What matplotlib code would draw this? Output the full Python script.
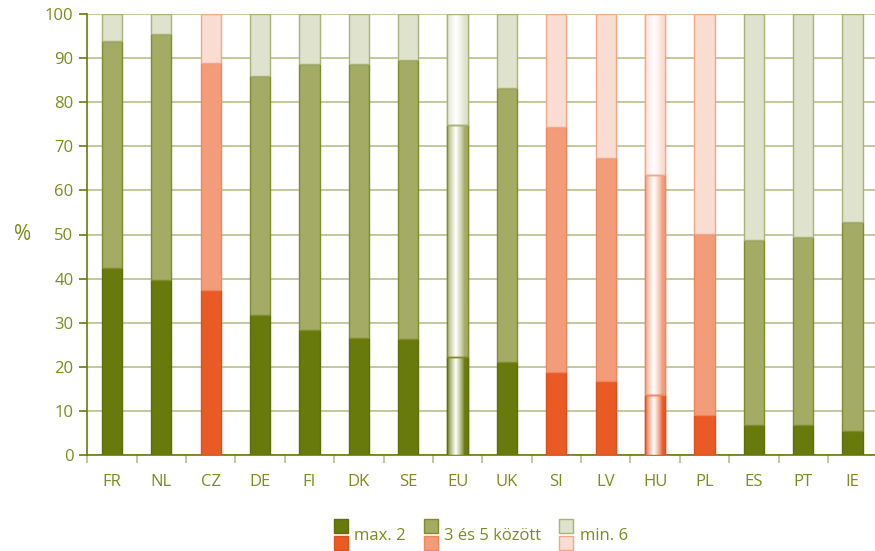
import numpy as np
import matplotlib
matplotlib.use("Agg")
import matplotlib.pyplot as plt
from matplotlib.patches import Rectangle
from matplotlib.legend_handler import HandlerBase
from matplotlib.colors import to_rgb

countries = ["FR", "NL", "CZ", "DE", "FI", "DK", "SE", "EU", "UK", "SI", "LV", "HU", "PL", "ES", "PT", "IE"]
max2 = [42.4, 39.7, 37.4, 31.7, 28.3, 26.5, 26.3, 22.2, 21.1, 18.8, 16.8, 13.6, 9.1, 6.8, 6.8, 5.4]
between3_5 = [51.5, 55.8, 51.5, 54.2, 60.4, 62.2, 63.3, 52.6, 62.1, 55.6, 50.5, 49.9, 41.0, 42.0, 42.6, 47.4]
min6 = [100 - a - b for a, b in zip(max2, between3_5)]
highlight_orange = ["CZ", "SI", "LV", "HU", "PL"]
gradient_bars = ["EU", "HU"]
legend_labels = ["max. 2", "3 és 5 között", "min. 6"]

olive = ["#687a0b", "#a3ab64", "#dfe2cc"]
olive_edge = ["#5e6e08", "#7f8c2a", "#a9b27a"]
orange = ["#ea5a24", "#f29c7a", "#f9dcd2"]
orange_edge = ["#e04e1a", "#ee8660", "#f3a78a"]
text_color = "#7d8a1c"
axis_color = "#6b7a0b"

plt.rcParams['font.family'] = ['Open Sans', 'DejaVu Sans']

fig = plt.figure(figsize=(8.75, 5.51), dpi=100)
ax = fig.add_axes([87.3 / 875, 1 - 455 / 551, 790 / 875, 441 / 551])

x = np.arange(len(countries))
width = 0.41
series = [max2, between3_5, min6]

for i, c in enumerate(countries):
    cols = orange if c in highlight_orange else olive
    edges = orange_edge if c in highlight_orange else olive_edge
    bottom = 0
    for s in range(3):
        v = series[s][i]
        ax.bar(x[i], v, width, bottom=bottom, color=cols[s], edgecolor=edges[s],
               linewidth=1.0, zorder=3)
        if c in gradient_bars:
            n = 64
            t = np.linspace(0, 1, n)
            w = np.clip(1 - np.abs(t - 0.42) / 0.42, 0, 1) ** 0.8
            base = np.array(to_rgb(cols[s]))
            rgb = base[None, :] * (1 - w[:, None]) + np.ones(3)[None, :] * w[:, None]
            img = np.tile(rgb[None, :, :], (2, 1, 1))
            ax.imshow(img, extent=(x[i] - width / 2, x[i] + width / 2, bottom, bottom + v),
                      aspect='auto', zorder=4, interpolation='bilinear')
            ax.add_patch(Rectangle((x[i] - width / 2, bottom), width, v, fill=False,
                                   edgecolor=edges[s], linewidth=1.0, zorder=5))
        bottom += v

ax.set_xlim(-0.5, len(countries) - 0.5)
ax.set_ylim(0, 100)
ax.set_yticks(np.arange(0, 101, 10))
ax.set_xticks(x)
ax.set_xticklabels(countries)
ax.set_xticks(np.arange(-0.5, len(countries), 1.0), minor=True)
ax.tick_params(axis='x', which='major', length=0, pad=14, labelsize=12, labelcolor=text_color)
ax.tick_params(axis='x', which='minor', length=6, color="#b5bd86", width=1.2)
ax.tick_params(axis='y', length=6, color=axis_color, width=1.2, labelsize=12, labelcolor=text_color, pad=4)
ax.yaxis.grid(True, color="#b3bb84", linewidth=1.1, zorder=0)
ax.set_axisbelow(True)
for sp in ["top", "right"]:
    ax.spines[sp].set_visible(False)
for sp in ["left", "bottom"]:
    ax.spines[sp].set_color(axis_color)
    ax.spines[sp].set_linewidth(1.2)
ax.set_ylabel("%", rotation=0, color=text_color, fontsize=15, labelpad=16, va='center')


class HandlerStack(HandlerBase):
    def create_artists(self, legend, orig_handle, xdescent, ydescent, width, height, fontsize, trans):
        (c1, e1), (c2, e2) = orig_handle.pair
        sz = 10
        gap = 2
        x0 = -xdescent + width - sz
        yc = -ydescent + height / 2
        r1 = Rectangle((x0, yc + gap / 2), sz, sz, facecolor=c1, edgecolor=e1, lw=1, transform=trans)
        r2 = Rectangle((x0, yc - gap / 2 - sz), sz, sz, facecolor=c2, edgecolor=e2, lw=1, transform=trans)
        return [r1, r2]


class Pair:
    def __init__(self, pair):
        self.pair = pair


handles = [Pair([(olive[s], olive_edge[s]), (orange[s], orange_edge[s])]) for s in range(3)]
leg = fig.legend(handles, legend_labels, handler_map={Pair: HandlerStack()}, ncol=3,
                 loc='center', bbox_to_anchor=(0.548, 0.027), frameon=False,
                 fontsize=12, handlelength=1.0, handletextpad=0.4, columnspacing=0.9)
for t in leg.get_texts():
    t.set_color(text_color)

fig.savefig("out.png", dpi=100)
